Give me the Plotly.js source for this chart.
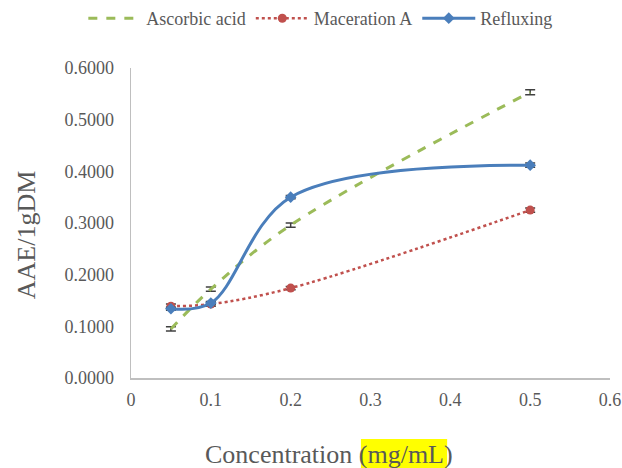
<!DOCTYPE html>
<html><head><meta charset="utf-8">
<script src="https://cdn.plot.ly/plotly-3.0.1.min.js"></script>
<style>html,body{margin:0;padding:0;background:#fff}#chart{width:622px;height:468px}</style>
</head><body><div id="chart"></div>
<script>
var concentration = [0.05, 0.1, 0.2, 0.5];
var ascorbic = [0.095, 0.172, 0.296, 0.553];
var ascorbicErr = [0.004, 0.004, 0.004, 0.005];
var maceration = [0.139, 0.143, 0.174, 0.325];
var macerationErr = [0.004, 0.004, 0.003, 0.004];
var refluxing = [0.134, 0.145, 0.350, 0.412];
var refluxingErr = [0.003, 0.003, 0.003, 0.004];
var xTicks = [0, 0.1, 0.2, 0.3, 0.4, 0.5, 0.6];
var xTickLabels = ['0', '0.1', '0.2', '0.3', '0.4', '0.5', '0.6'];
var yTicks = [0, 0.1, 0.2, 0.3, 0.4, 0.5, 0.6];
var yTickLabels = ['0.0000', '0.1000', '0.2000', '0.3000', '0.4000', '0.5000', '0.6000'];

var errStyle = {type: 'data', visible: true, color: '#404040', thickness: 1.5, width: 5};
var font = "'Liberation Serif', 'Times New Roman', serif";

var traces = [
  {x: concentration, y: ascorbic, name: 'Ascorbic acid', mode: 'lines',
   line: {color: '#9BBB59', width: 3, dash: 'dash', shape: 'spline', smoothing: 1},
   error_y: Object.assign({array: ascorbicErr}, errStyle)},
  {x: concentration, y: maceration, name: 'Maceration A', mode: 'lines+markers',
   line: {color: '#C0504D', width: 2.5, dash: 'dot', shape: 'spline', smoothing: 1},
   marker: {symbol: 'circle', size: 9, color: '#C0504D'},
   error_y: Object.assign({array: macerationErr}, errStyle)},
  {x: concentration, y: refluxing, name: 'Refluxing', mode: 'lines+markers',
   line: {color: '#4A7EBB', width: 3, shape: 'spline', smoothing: 1},
   marker: {symbol: 'diamond', size: 9, color: '#4A7EBB'},
   error_y: Object.assign({array: refluxingErr}, errStyle)}
];

var layout = {
  width: 622, height: 468,
  margin: {l: 131, r: 12, t: 68, b: 90},
  paper_bgcolor: '#fff', plot_bgcolor: '#fff',
  font: {family: font, color: '#595959', size: 18},
  showlegend: true,
  legend: {orientation: 'h', x: 0.515, xref: 'container', xanchor: 'center', y: 1.0, yref: 'container', yanchor: 'top',
           font: {family: font, size: 18, color: '#595959'}, itemwidth: 53, tracegroupgap: 0},
  xaxis: {range: [0, 0.6], tickvals: xTicks, ticktext: xTickLabels, showgrid: false, zeroline: false,
          showline: true, linecolor: '#BFBFBF', linewidth: 1.5, ticks: '', ticklabelstandoff: 5,
          tickfont: {family: font, size: 18, color: '#595959'}},
  yaxis: {range: [0, 0.6], tickvals: yTicks, ticktext: yTickLabels, showgrid: false, zeroline: false,
          showline: true, linecolor: '#BFBFBF', linewidth: 1.5, ticks: '', ticklabelstandoff: 12,
          tickfont: {family: font, size: 18, color: '#595959'}},
  annotations: [
    {text: 'Concentration (mg/mL)', xref: 'paper', yref: 'paper', x: 0.4144, y: -0.248,
     xanchor: 'center', yanchor: 'middle', showarrow: false,
     font: {family: font, size: 26, color: '#595959'}},
    {text: 'AAE/1gDM', xref: 'paper', yref: 'paper', x: -0.219, y: 0.461, textangle: -90,
     xanchor: 'center', yanchor: 'middle', showarrow: false,
     font: {family: font, size: 26, color: '#595959'}}
  ],
  shapes: [{type: 'rect', xref: 'paper', yref: 'paper', layer: 'below',
            x0: 0.480, x1: 0.660, y0: -0.297, y1: -0.197,
            fillcolor: '#FFFF00', line: {width: 0}}]
};
Plotly.newPlot('chart', traces, layout, {displayModeBar: false, staticPlot: true});
</script></body></html>
